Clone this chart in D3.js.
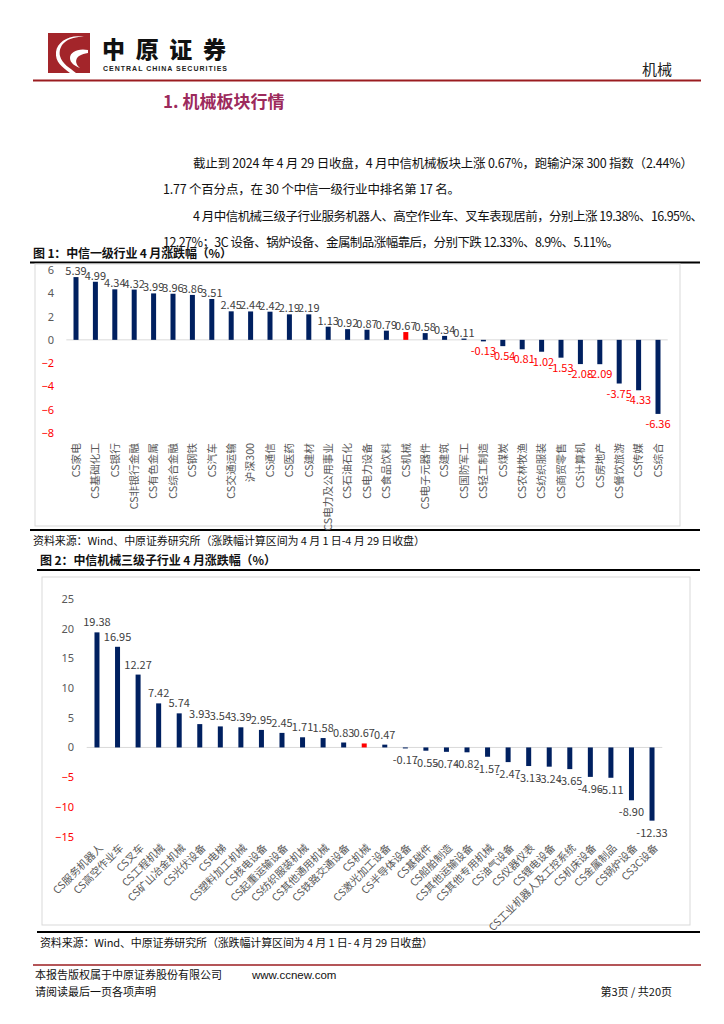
<!DOCTYPE html>
<html lang="zh">
<head>
<meta charset="UTF-8">
<title>机械板块行情</title>
<script src="https://d3js.org/d3.v7.min.js"></script>
<style>
  body { margin: 0; background: #fff; }
  svg { display: block; font-family: "Noto Sans CJK SC", "Noto Sans", sans-serif; }
  .cat { font-size: 10.5px; fill: #595959; }
  .cat1 { font-size: 10.7px; }
  .val { font-size: 11px; fill: #404040; }
  .tick text { font-size: 11px; fill: #595959; font-family: "Noto Sans", sans-serif; }
</style>
</head>
<body>
<svg id="page" width="724" height="1024"></svg>
<script>
// 图1：中信一级行业 4 月涨跌幅
const industries = ["CS家电","CS基础化工","CS银行","CS非银行金融","CS有色金属","CS综合金融","CS钢铁","CS汽车",
  "CS交通运输","沪深300","CS通信","CS医药","CS建材","CS电力及公用事业","CS石油石化","CS电力设备","CS食品饮料",
  "CS机械","CS电子元器件","CS建筑","CS国防军工","CS轻工制造","CS煤炭","CS农林牧渔","CS纺织服装","CS商贸零售",
  "CS计算机","CS房地产","CS餐饮旅游","CS传媒","CS综合"];
const industryVals = [5.39,4.99,4.34,4.32,3.99,3.96,3.86,3.51,2.45,2.44,2.42,2.19,2.19,1.13,0.92,0.87,0.79,
  0.67,0.58,0.34,0.11,-0.13,-0.54,-0.81,-1.02,-1.53,-2.08,-2.09,-3.75,-4.33,-6.36];
const ticks1 = [6,4,2,0,-2,-4,-6,-8];

// 图2：中信机械三级子行业 4 月涨跌幅
const subs = ["CS服务机器人","CS高空作业车","CS叉车","CS工程机械","CS矿山冶金机械","CS光伏设备","CS电梯",
  "CS塑料加工机械","CS核电设备","CS起重运输设备","CS纺织服装机械","CS其他通用机械","CS铁路交通设备","CS机械",
  "CS激光加工设备","CS半导体设备","CS基础件","CS船舶制造","CS其他运输设备","CS其他专用机械","CS油气设备",
  "CS仪器仪表","CS锂电设备","CS工业机器人及工控系统","CS机床设备","CS金属制品","CS锅炉设备","CS3C设备"];
const subVals = [19.38,16.95,12.27,7.42,5.74,3.93,3.54,3.39,2.95,2.45,1.71,1.58,0.83,0.67,0.47,-0.17,-0.55,
  -0.74,-0.82,-1.57,-2.47,-3.13,-3.24,-3.65,-4.96,-5.11,-8.90,-12.33];
const ticks2 = [25,20,15,10,5,0,-5,-10,-15];

const navy = "#002060", red = "#ff0000", darkRed = "#9b1c20";
const svg = d3.select("#page");

// ---- 页眉 ----
const logo = svg.append("g");
logo.append("rect").attr("x", 48).attr("y", 33).attr("width", 42).attr("height", 40).attr("fill", "#a3252a");
logo.append("path").attr("d", "M84,37 C66,36 58,46 60,56 C62,64 70,68 76,73 L70,73 C62,67 55,62 56,52 C57,42 70,34 84,37 Z")
  .attr("fill", "#fff");
logo.append("path").attr("d", "M88,50 C78,48 70,52 70,58 C70,63 75,66 80,68 C74,63 74,55 88,53 Z").attr("fill", "#fff");
svg.append("text").attr("x", 102).attr("y", 58).attr("font-size", 23).attr("font-weight", 900)
  .attr("textLength", 124).attr("fill", "#111").text("中原证券");
svg.append("text").attr("x", 103).attr("y", 71).attr("font-size", 7).attr("font-weight", 700)
  .attr("textLength", 124).attr("font-family", "Liberation Sans").attr("fill", "#222").text("CENTRAL CHINA SECURITIES");
svg.append("text").attr("x", 672).attr("y", 75).attr("text-anchor", "end").attr("font-size", 15).attr("fill", "#222").text("机械");
svg.append("line").attr("x1", 33).attr("x2", 701).attr("y1", 80.5).attr("y2", 80.5).attr("stroke", darkRed).attr("stroke-width", 2);

// ---- 正文 ----
svg.append("text").attr("x", 163).attr("y", 108).attr("font-size", 17).attr("font-weight", 700)
  .attr("fill", "#9c2a5c").text("1. 机械板块行情");
const para = [
  {x: 193, y: 168, w: 500, t: "截止到 2024 年 4 月 29 日收盘，4 月中信机械板块上涨 0.67%，跑输沪深 300 指数（2.44%）"},
  {x: 163, y: 194, w: 297, t: "1.77 个百分点，在 30 个中信一级行业中排名第 17 名。"},
  {x: 193, y: 221, w: 510, t: "4 月中信机械三级子行业服务机器人、高空作业车、叉车表现居前，分别上涨 19.38%、16.95%、"},
  {x: 163, y: 247, w: 456, t: "12.27%；3C 设备、锅炉设备、金属制品涨幅靠后，分别下跌 12.33%、8.9%、5.11%。"}
];
para.forEach(p => svg.append("text").attr("x", p.x).attr("y", p.y).attr("font-size", 12.5)
  .attr("fill", "#111").attr("textLength", p.w).attr("lengthAdjust", "spacing").text(p.t));

// ---- 图表框架 ----
function frame(title, tx, ty, tw, box, lineY, bottomY, source, sw) {
  svg.append("text").attr("x", tx).attr("y", ty).attr("font-size", 12).attr("font-weight", 700)
    .attr("fill", "#111").attr("textLength", tw).text(title);
  svg.append("line").attr("x1", tx - 3).attr("x2", 700).attr("y1", lineY).attr("y2", lineY)
    .attr("stroke", "#000").attr("stroke-width", 2.2);
  svg.append("rect").attr("x", box[0]).attr("y", box[1]).attr("width", box[2]).attr("height", box[3])
    .attr("fill", "none").attr("stroke", "#d9d9d9");
  svg.append("line").attr("x1", tx - 3).attr("x2", 700).attr("y1", bottomY).attr("y2", bottomY)
    .attr("stroke", "#000").attr("stroke-width", 2.2);
  svg.append("text").attr("x", tx).attr("y", bottomY + 15).attr("font-size", 11).attr("fill", "#111")
    .attr("textLength", sw).text(source);
}
frame("图 1：中信一级行业 4 月涨跌幅（%）", 33, 258, 199, [35, 264, 645, 262], 262.5, 530,
  "资料来源：Wind、中原证券研究所（涨跌幅计算区间为 4 月 1 日-4 月 29 日收盘）", 392);
frame("图 2：中信机械三级子行业 4 月涨跌幅（%）", 40, 565, 236, [42, 577, 648, 348], 570, 932,
  "资料来源：Wind、中原证券研究所（涨跌幅计算区间为 4 月 1 日- 4 月 29 日收盘）", 393);

// ---- 柱状图 ----
function barChart(cfg) {
  const x = d3.scaleBand().domain(cfg.cats).range(cfg.xr);
  const y = d3.scaleLinear().domain(cfg.yd).range(cfg.yr);
  const cx = d => x(d) + x.bandwidth() / 2;
  const g = svg.append("g");

  const ax = g.append("g").attr("transform", `translate(${cfg.axisX},0)`)
    .call(d3.axisLeft(y).tickValues(cfg.ticks).tickSize(0).tickPadding(0));
  ax.select(".domain").remove();
  ax.selectAll(".tick text").attr("fill", d => d < 0 ? red : "#595959").style("fill", d => d < 0 ? red : "#595959");

  g.append("line").attr("x1", cfg.xr[0]).attr("x2", cfg.xr[1]).attr("y1", y(0)).attr("y2", y(0))
    .attr("stroke", "#d9d9d9").attr("stroke-width", 1);

  const data = cfg.cats.map((c, i) => ({c, v: cfg.vals[i]}));
  g.selectAll(".bar").data(data).enter().append("rect")
    .attr("x", d => cx(d.c) - cfg.bw / 2).attr("width", cfg.bw)
    .attr("y", d => y(Math.max(0, d.v))).attr("height", d => Math.abs(y(d.v) - y(0)))
    .attr("fill", d => d.c === "CS机械" ? red : navy);

  g.selectAll(".val").data(data).enter().append("text").attr("class", "val")
    .attr("text-anchor", "middle").attr("x", d => cx(d.c))
    .attr("y", d => d.v >= 0 ? y(d.v) - cfg.upOff : y(d.v) + cfg.downOff)
    .style("fill", d => d.v < 0 && cfg.redNeg ? red : "#404040")
    .text(d => d.v.toFixed(2));

  g.selectAll(".cat").data(data).enter().append("text").attr("class", "cat " + (cfg.catClass || ""))
    .attr("text-anchor", "end").attr("dy", "0.35em")
    .attr("transform", d => `translate(${cx(d.c) + cfg.catDx},${cfg.catY}) rotate(${cfg.rot})`)
    .text(d => d.c);
}

barChart({cats: industries, vals: industryVals, xr: [66.3, 667.7], yd: [-8, 6], yr: [433, 270],
  ticks: ticks1, axisX: 54, bw: 5, upOff: 2, downOff: 14, redNeg: true, catDx: 0, catY: 443, rot: -90, catClass: "cat1"});
barChart({cats: subs, vals: subVals, xr: [86.7, 662.3], yd: [-15, 25], yr: [836.5, 599],
  ticks: ticks2, axisX: 74, bw: 5, upOff: 6, downOff: 16, redNeg: false, catDx: 4, catY: 846, rot: -45});

// ---- 页脚 ----
svg.append("line").attr("x1", 33).attr("x2", 701).attr("y1", 965).attr("y2", 965).attr("stroke", darkRed).attr("stroke-width", 1.5);
svg.append("text").attr("x", 35).attr("y", 979).attr("font-size", 11).attr("fill", "#111").text("本报告版权属于中原证券股份有限公司");
svg.append("text").attr("x", 252).attr("y", 979).attr("font-size", 11.5).attr("font-family", "Liberation Sans").attr("fill", "#111").text("www.ccnew.com");
svg.append("text").attr("x", 35).attr("y", 996).attr("font-size", 11).attr("fill", "#111").text("请阅读最后一页各项声明");
svg.append("text").attr("x", 672).attr("y", 996).attr("text-anchor", "end").attr("font-size", 11).attr("fill", "#111").text("第3页 / 共20页");
</script>
</body>
</html>
